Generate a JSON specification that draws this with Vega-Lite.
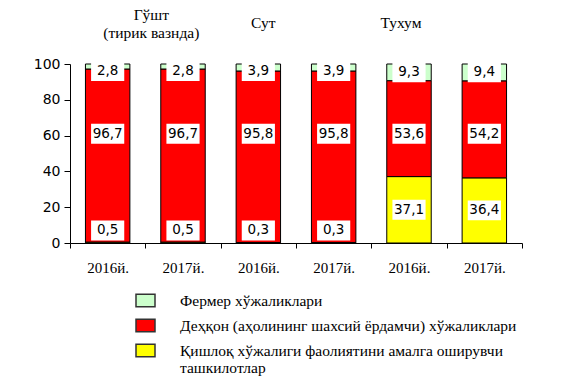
{
  "$schema": "https://vega.github.io/schema/vega-lite/v6.json",
  "autosize": "none",
  "width": 452,
  "height": 179,
  "padding": {"left": 70, "top": 64, "right": 50, "bottom": 134},
  "background": "white",
  "config": {
    "view": {"stroke": null},
    "axisY": {"title": null, "grid": false, "labelOverlap": false, "labelFlush": false, "labelFont": "DejaVu Sans", "labelFontSize": 14, "labelColor": "black", "labelPadding": 4, "domainColor": "black", "tickColor": "black", "tickSize": 6},
    "locale": {"number": {"decimal": ",", "thousands": " ", "grouping": [3], "currency": ["", ""]}}
  },
  "datasets": {
    "bars": [
      {"key": "Гўшт|2016й.", "cat": "Қишлоқ хўжалиги фаолиятини амалга оширувчи ташкилотлар", "value": 0.5, "order": 1},
      {"key": "Гўшт|2016й.", "cat": "Деҳқон (аҳолининг шахсий ёрдамчи) хўжаликлари", "value": 96.7, "order": 2},
      {"key": "Гўшт|2016й.", "cat": "Фермер хўжаликлари", "value": 2.8, "order": 3},
      {"key": "Гўшт|2017й.", "cat": "Қишлоқ хўжалиги фаолиятини амалга оширувчи ташкилотлар", "value": 0.5, "order": 1},
      {"key": "Гўшт|2017й.", "cat": "Деҳқон (аҳолининг шахсий ёрдамчи) хўжаликлари", "value": 96.7, "order": 2},
      {"key": "Гўшт|2017й.", "cat": "Фермер хўжаликлари", "value": 2.8, "order": 3},
      {"key": "Сут|2016й.", "cat": "Қишлоқ хўжалиги фаолиятини амалга оширувчи ташкилотлар", "value": 0.3, "order": 1},
      {"key": "Сут|2016й.", "cat": "Деҳқон (аҳолининг шахсий ёрдамчи) хўжаликлари", "value": 95.8, "order": 2},
      {"key": "Сут|2016й.", "cat": "Фермер хўжаликлари", "value": 3.9, "order": 3},
      {"key": "Сут|2017й.", "cat": "Қишлоқ хўжалиги фаолиятини амалга оширувчи ташкилотлар", "value": 0.3, "order": 1},
      {"key": "Сут|2017й.", "cat": "Деҳқон (аҳолининг шахсий ёрдамчи) хўжаликлари", "value": 95.8, "order": 2},
      {"key": "Сут|2017й.", "cat": "Фермер хўжаликлари", "value": 3.9, "order": 3},
      {"key": "Тухум|2016й.", "cat": "Қишлоқ хўжалиги фаолиятини амалга оширувчи ташкилотлар", "value": 37.1, "order": 1},
      {"key": "Тухум|2016й.", "cat": "Деҳқон (аҳолининг шахсий ёрдамчи) хўжаликлари", "value": 53.6, "order": 2},
      {"key": "Тухум|2016й.", "cat": "Фермер хўжаликлари", "value": 9.3, "order": 3},
      {"key": "Тухум|2017й.", "cat": "Қишлоқ хўжалиги фаолиятини амалга оширувчи ташкилотлар", "value": 36.4, "order": 1},
      {"key": "Тухум|2017й.", "cat": "Деҳқон (аҳолининг шахсий ёрдамчи) хўжаликлари", "value": 54.2, "order": 2},
      {"key": "Тухум|2017й.", "cat": "Фермер хўжаликлари", "value": 9.4, "order": 3}
    ]
  },
  "layer": [
    {
      "data": {"name": "bars"},
      "mark": {"type": "bar", "width": {"band": 0.59}, "stroke": "black", "strokeWidth": 1},
      "encoding": {
        "x": {
          "field": "key", "type": "nominal",
          "sort": ["Гўшт|2016й.", "Гўшт|2017й.", "Сут|2016й.", "Сут|2017й.", "Тухум|2016й.", "Тухум|2017й."],
          "scale": {"paddingInner": 0, "paddingOuter": 0},
          "axis": {
            "title": null, "labelAngle": 0, "tickBand": "extent",
            "labelExpr": "split(datum.value, '|')[1]",
            "labelFont": "Liberation Serif", "labelFontSize": 15, "labelFontWeight": "normal",
            "labelColor": "black", "labelPadding": 12,
            "domainColor": "black", "tickColor": "black", "tickSize": 5, "grid": false
          }
        },
        "y": {
          "field": "value", "type": "quantitative", "stack": "zero",
          "scale": {"domain": [0, 100], "nice": false},
          "axis": {"values": [0, 20, 40, 60, 80, 100]}
        },
        "order": {"field": "order", "type": "quantitative"},
        "color": {
          "field": "cat", "type": "nominal",
          "scale": {
            "domain": ["Фермер хўжаликлари", "Деҳқон (аҳолининг шахсий ёрдамчи) хўжаликлари", "Қишлоқ хўжалиги фаолиятини амалга оширувчи ташкилотлар"],
            "range": ["#ccffcc", "#ff0000", "#ffff00"]
          },
          "legend": {
            "title": null, "orient": "none", "legendX": 65, "legendY": 226,
            "symbolType": "M-1,-0.65L1,-0.65L1,0.65L-1,0.65Z", "symbolSize": 361,
            "symbolStrokeColor": "#333333", "symbolStrokeWidth": 1.5,
            "labelFont": "Liberation Serif", "labelFontSize": 15.5, "labelColor": "black",
            "labelOffset": 24, "rowPadding": 5, "labelLimit": 500,
            "labelExpr": "datum.label == 'Қишлоқ хўжалиги фаолиятини амалга оширувчи ташкилотлар' ? ['Қишлоқ хўжалиги фаолиятини амалга оширувчи', 'ташкилотлар'] : datum.label"
          }
        }
      }
    },
    {
      "data": {"name": "bars"},
      "transform": [
        {"stack": "value", "groupby": ["key"], "sort": [{"field": "order"}], "as": ["y0", "y1"]},
        {"calculate": "datum.order == 2 ? 61 : min(max((datum.y0 + datum.y1) / 2, 7), 96)", "as": "labelY"}
      ],
      "layer": [
        {
          "mark": {"type": "point", "shape": "M-1,-0.6L1,-0.6L1,0.6L-1,0.6Z", "size": 1100, "filled": true, "fill": "white", "opacity": 1, "strokeWidth": 0},
          "encoding": {
            "x": {"field": "key", "type": "nominal", "sort": ["Гўшт|2016й.", "Гўшт|2017й.", "Сут|2016й.", "Сут|2017й.", "Тухум|2016й.", "Тухум|2017й."]},
            "y": {"field": "labelY", "type": "quantitative", "axis": {"values": [0, 20, 40, 60, 80, 100]}}
          }
        },
        {
          "mark": {"type": "text", "font": "DejaVu Sans", "fontSize": 13.5, "color": "black"},
          "encoding": {
            "x": {"field": "key", "type": "nominal", "sort": ["Гўшт|2016й.", "Гўшт|2017й.", "Сут|2016й.", "Сут|2017й.", "Тухум|2016й.", "Тухум|2017й."]},
            "y": {"field": "labelY", "type": "quantitative", "axis": {"values": [0, 20, 40, 60, 80, 100]}},
            "text": {"field": "value", "type": "quantitative", "format": ".1f"}
          }
        }
      ]
    },
    {
      "data": {"values": [{"key": "Гўшт|2017й.", "h": 127.5, "t": "Гўшт\n(тирик вазнда)"}]},
      "mark": {"type": "text", "font": "Liberation Serif", "fontSize": 15.5, "color": "black", "lineBreak": "\n", "lineHeight": 18, "dx": 6, "clip": false},
      "encoding": {
        "x": {"field": "key", "type": "nominal", "bandPosition": 0},
        "y": {"field": "h", "type": "quantitative", "axis": {"values": [0, 20, 40, 60, 80, 100]}},
        "text": {"field": "t"}
      }
    },
    {
      "data": {"values": [{"key": "Сут|2016й.", "h": 123, "t": "Сут"}]},
      "mark": {"type": "text", "font": "Liberation Serif", "fontSize": 15.5, "color": "black", "dx": 5, "clip": false},
      "encoding": {
        "x": {"field": "key", "type": "nominal"},
        "y": {"field": "h", "type": "quantitative", "axis": {"values": [0, 20, 40, 60, 80, 100]}},
        "text": {"field": "t"}
      }
    },
    {
      "data": {"values": [{"key": "Тухум|2016й.", "h": 123, "t": "Тухум"}]},
      "mark": {"type": "text", "font": "Liberation Serif", "fontSize": 15.5, "color": "black", "dx": -8, "clip": false},
      "encoding": {
        "x": {"field": "key", "type": "nominal"},
        "y": {"field": "h", "type": "quantitative", "axis": {"values": [0, 20, 40, 60, 80, 100]}},
        "text": {"field": "t"}
      }
    }
  ]
}
